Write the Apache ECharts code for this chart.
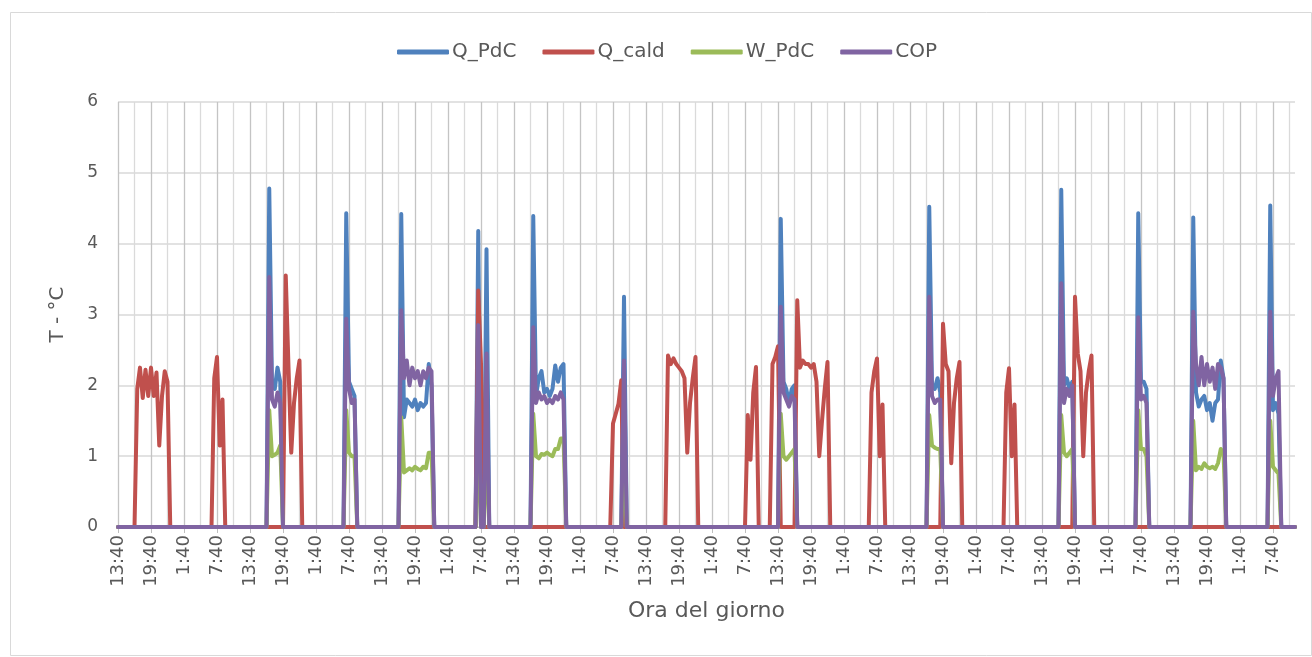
<!DOCTYPE html>
<html>
<head>
<meta charset="utf-8">
<script src="https://cdn.jsdelivr.net/npm/echarts@6/dist/echarts.min.js"></script>
<style>
  html, body { margin: 0; padding: 0; background: #ffffff; }
  #chart { width: 1312px; height: 657px; }
</style>
</head>
<body>
<div id="chart"></div>
<script>
// ---- Data (30-minute samples starting 13:40, one row = 6 hours) ----
const startTime = '13:40';
const stepMinutes = 30;
const pointCount = 429;
const tickLabels = ['13:40', '19:40', '1:40', '7:40'];
const seriesNames = ['Q_PdC', 'Q_cald', 'W_PdC', 'COP'];

const Q_PdC = [
  0,0,0,0,0,0,0,0,0,0,0,0,
  0,0,0,0,0,0,0,0,0,0,0,0,
  0,0,0,0,0,0,0,0,0,0,0,0,
  0,0,0,0,0,0,0,0,0,0,0,0,
  0,0,0,0,0,0,0,4.78,2.0,1.95,2.25,2.05,
  0,0,0,0,0,0,0,0,0,0,0,0,
  0,0,0,0,0,0,0,0,0,0,0,4.43,
  2.05,1.95,1.85,0,0,0,0,0,0,0,0,0,
  0,0,0,0,0,0,0,4.42,1.55,1.8,1.75,1.7,
  1.8,1.65,1.75,1.7,1.75,2.3,2.0,0,0,0,0,0,
  0,0,0,0,0,0,0,0,0,0,0,4.18,
  0,0,3.92,0,0,0,0,0,0,0,0,0,
  0,0,0,0,0,0,0,4.39,1.85,2.1,2.2,1.9,
  1.95,1.85,1.95,2.28,2.05,2.25,2.3,0,0,0,0,0,
  0,0,0,0,0,0,0,0,0,0,0,0,
  0,0,0,0,3.25,0,0,0,0,0,0,0,
  0,0,0,0,0,0,0,0,0,0,0,0,
  0,0,0,0,0,0,0,0,0,0,0,0,
  0,0,0,0,0,0,0,0,0,0,0,0,
  0,0,0,0,0,0,0,0,0,0,0,0,
  0,4.35,2.05,1.95,1.75,1.95,2.0,0,0,0,0,0,
  0,0,0,0,0,0,0,0,0,0,0,0,
  0,0,0,0,0,0,0,0,0,0,0,0,
  0,0,0,0,0,0,0,0,0,0,0,0,
  0,0,0,0,0,0,0,4.52,2.0,1.95,2.1,1.9,
  0,0,0,0,0,0,0,0,0,0,0,0,
  0,0,0,0,0,0,0,0,0,0,0,0,
  0,0,0,0,0,0,0,0,0,0,0,0,
  0,0,0,0,0,0,0,4.76,2.0,2.1,1.95,2.05,
  0,0,0,0,0,0,0,0,0,0,0,0,
  0,0,0,0,0,0,0,0,0,0,0,4.43,
  2.05,2.05,1.95,0,0,0,0,0,0,0,0,0,
  0,0,0,0,0,0,0,4.37,1.9,1.7,1.8,1.85,
  1.65,1.75,1.5,1.75,1.8,2.35,2.1,0,0,0,0,0,
  0,0,0,0,0,0,0,0,0,0,0,4.54,
  1.65,1.75,1.6,0,0,0,0,0,0
];

const Q_cald = [
  0,0,0,0,0,0,0,1.95,2.25,1.82,2.22,1.85,
  2.25,1.85,2.18,1.15,1.85,2.2,2.05,0,0,0,0,0,
  0,0,0,0,0,0,0,0,0,0,0,2.1,
  2.4,1.15,1.8,0,0,0,0,0,0,0,0,0,
  0,0,0,0,0,0,0,0,0,0,0,0,
  0,3.55,2.25,1.05,1.75,2.1,2.35,0,0,0,0,0,
  0,0,0,0,0,0,0,0,0,0,0,0,
  0,0,0,0,0,0,0,0,0,0,0,0,
  0,0,0,0,0,0,0,0,0,0,0,0,
  0,0,0,0,0,0,0,0,0,0,0,0,
  0,0,0,0,0,0,0,0,0,0,0,3.34,
  2.3,0,0,0,0,0,0,0,0,0,0,0,
  0,0,0,0,0,0,0,0,0,0,0,0,
  0,0,0,0,0,0,0,0,0,0,0,0,
  0,0,0,0,0,0,0,0,0,0,0,0,
  1.46,1.6,1.74,2.07,0,0,0,0,0,0,0,0,
  0,0,0,0,0,0,0,0,2.42,2.3,2.38,2.3,
  2.25,2.2,2.1,1.05,1.75,2.1,2.4,0,0,0,0,0,
  0,0,0,0,0,0,0,0,0,0,0,0,
  0,1.58,0.95,1.9,2.26,0,0,0,0,0,2.3,2.4,
  2.55,0,0,0,0,0,0,3.2,2.25,2.35,2.3,2.3,
  2.25,2.3,2.05,1.0,1.5,1.95,2.33,0,0,0,0,0,
  0,0,0,0,0,0,0,0,0,0,1.9,2.2,
  2.38,1.0,1.73,0,0,0,0,0,0,0,0,0,
  0,0,0,0,0,0,0,0,0,0,0,0,
  2.87,2.3,2.2,0.9,1.75,2.1,2.33,0,0,0,0,0,
  0,0,0,0,0,0,0,0,0,0,0,1.9,
  2.24,1.0,1.73,0,0,0,0,0,0,0,0,0,
  0,0,0,0,0,0,0,0,0,0,0,0,
  3.25,2.45,2.2,1.0,1.9,2.2,2.42,0,0,0,0,0,
  0,0,0,0,0,0,0,0,0,0,0,0,
  0,0,0,0,0,0,0,0,0,0,0,0,
  0,0,0,0,0,0,0,0,0,0,0,0,
  0,0,0,0,0,0,0,0,0,0,0,0,
  0,0,0,0,0,0,0,0,0,0,0,0,
  0,0,0,0,0,0,0,0,0
];

const W_PdC = [
  0,0,0,0,0,0,0,0,0,0,0,0,
  0,0,0,0,0,0,0,0,0,0,0,0,
  0,0,0,0,0,0,0,0,0,0,0,0,
  0,0,0,0,0,0,0,0,0,0,0,0,
  0,0,0,0,0,0,0,1.65,1.0,1.02,1.05,1.15,
  0,0,0,0,0,0,0,0,0,0,0,0,
  0,0,0,0,0,0,0,0,0,0,0,1.65,
  1.05,1.0,1.0,0,0,0,0,0,0,0,0,0,
  0,0,0,0,0,0,0,1.55,0.77,0.8,0.83,0.8,
  0.85,0.82,0.8,0.85,0.83,1.05,1.05,0,0,0,0,0,
  0,0,0,0,0,0,0,0,0,0,0,1.3,
  0,0,1.2,0,0,0,0,0,0,0,0,0,
  0,0,0,0,0,0,0,1.6,1.0,0.97,1.03,1.02,
  1.05,1.02,1.0,1.1,1.1,1.25,1.25,0,0,0,0,0,
  0,0,0,0,0,0,0,0,0,0,0,0,
  0,0,0,0,1.0,0,0,0,0,0,0,0,
  0,0,0,0,0,0,0,0,0,0,0,0,
  0,0,0,0,0,0,0,0,0,0,0,0,
  0,0,0,0,0,0,0,0,0,0,0,0,
  0,0,0,0,0,0,0,0,0,0,0,0,
  0,1.6,1.0,0.95,1.0,1.05,1.1,0,0,0,0,0,
  0,0,0,0,0,0,0,0,0,0,0,0,
  0,0,0,0,0,0,0,0,0,0,0,0,
  0,0,0,0,0,0,0,0,0,0,0,0,
  0,0,0,0,0,0,0,1.58,1.15,1.12,1.1,1.1,
  0,0,0,0,0,0,0,0,0,0,0,0,
  0,0,0,0,0,0,0,0,0,0,0,0,
  0,0,0,0,0,0,0,0,0,0,0,0,
  0,0,0,0,0,0,0,1.58,1.05,1.0,1.05,1.1,
  0,0,0,0,0,0,0,0,0,0,0,0,
  0,0,0,0,0,0,0,0,0,0,0,1.65,
  1.1,1.1,1.0,0,0,0,0,0,0,0,0,0,
  0,0,0,0,0,0,0,1.5,0.8,0.85,0.82,0.9,
  0.85,0.83,0.85,0.82,0.9,1.1,1.05,0,0,0,0,0,
  0,0,0,0,0,0,0,0,0,0,0,1.5,
  0.85,0.8,0.75,0,0,0,0,0,0
];

const COP = [
  0,0,0,0,0,0,0,0,0,0,0,0,
  0,0,0,0,0,0,0,0,0,0,0,0,
  0,0,0,0,0,0,0,0,0,0,0,0,
  0,0,0,0,0,0,0,0,0,0,0,0,
  0,0,0,0,0,0,0,3.53,1.8,1.7,1.9,1.75,
  0,0,0,0,0,0,0,0,0,0,0,0,
  0,0,0,0,0,0,0,0,0,0,0,2.94,
  1.95,1.75,1.8,0,0,0,0,0,0,0,0,0,
  0,0,0,0,0,0,0,3.06,2.1,2.35,2.0,2.25,
  2.1,2.2,2.0,2.2,2.1,2.25,2.2,0,0,0,0,0,
  0,0,0,0,0,0,0,0,0,0,0,2.85,
  0,0,2.45,0,0,0,0,0,0,0,0,0,
  0,0,0,0,0,0,0,2.82,1.75,1.9,1.8,1.85,
  1.75,1.8,1.75,1.85,1.8,1.9,1.8,0,0,0,0,0,
  0,0,0,0,0,0,0,0,0,0,0,0,
  0,0,0,0,2.35,0,0,0,0,0,0,0,
  0,0,0,0,0,0,0,0,0,0,0,0,
  0,0,0,0,0,0,0,0,0,0,0,0,
  0,0,0,0,0,0,0,0,0,0,0,0,
  0,0,0,0,0,0,0,0,0,0,0,0,
  0,3.11,1.9,1.8,1.7,1.85,1.8,0,0,0,0,0,
  0,0,0,0,0,0,0,0,0,0,0,0,
  0,0,0,0,0,0,0,0,0,0,0,0,
  0,0,0,0,0,0,0,0,0,0,0,0,
  0,0,0,0,0,0,0,3.25,1.85,1.75,1.8,1.8,
  0,0,0,0,0,0,0,0,0,0,0,0,
  0,0,0,0,0,0,0,0,0,0,0,0,
  0,0,0,0,0,0,0,0,0,0,0,0,
  0,0,0,0,0,0,0,3.44,1.75,1.95,1.85,2.0,
  0,0,0,0,0,0,0,0,0,0,0,0,
  0,0,0,0,0,0,0,0,0,0,0,2.96,
  1.8,1.85,1.75,0,0,0,0,0,0,0,0,0,
  0,0,0,0,0,0,0,3.04,2.3,2.0,2.4,2.0,
  2.3,2.05,2.25,1.95,2.3,2.25,2.1,0,0,0,0,0,
  0,0,0,0,0,0,0,0,0,0,0,3.04,
  1.85,2.1,2.2,0,0,0,0,0,0
];

const yTicks = [0, 1, 2, 3, 4, 5, 6];

// ---- Category axis (time of day) ----
const categories = [];
(function () {
  const parts = startTime.split(':');
  let t = parseInt(parts[0], 10) * 60 + parseInt(parts[1], 10);
  for (let i = 0; i < pointCount; i++) {
    const m = ((t + i * stepMinutes) % 1440 + 1440) % 1440;
    const h = Math.floor(m / 60);
    const mm = m % 60;
    categories.push(h + ':' + (mm < 10 ? '0' + mm : mm));
  }
})();

const colors = ['#4F81BD', '#C0504D', '#9BBB59', '#8064A2'];
const values = [Q_PdC, Q_cald, W_PdC, COP];
const FONT = 'DejaVu Sans';

const chart = echarts.init(document.getElementById('chart'), null, { renderer: 'canvas' });

chart.setOption({
  animation: false,
  backgroundColor: '#ffffff',
  color: colors,
  graphic: [{
    type: 'rect',
    shape: { x: 10.5, y: 12.5, width: 1301, height: 643 },
    style: { fill: 'none', stroke: '#D9D9D9', lineWidth: 1 },
    silent: true,
    z: -10
  }],
  legend: {
    data: seriesNames,
    left: 392,
    top: 37,
    icon: 'roundRect',
    itemWidth: 52,
    itemHeight: 5,
    itemGap: 26,
    textStyle: { fontFamily: FONT, fontSize: 20, color: '#595959', padding: [0, 0, 0, -2] }
  },
  grid: { left: 118, right: 17, top: 102, bottom: 130, containLabel: false },
  xAxis: {
    type: 'category',
    data: categories,
    boundaryGap: false,
    name: 'Ora del giorno',
    nameLocation: 'middle',
    nameGap: 73,
    nameTextStyle: { fontFamily: FONT, fontSize: 22, color: '#595959' },
    axisLine: { show: true, lineStyle: { color: '#BFBFBF', width: 1 } },
    axisTick: { show: true, interval: 11, length: 6, lineStyle: { color: '#BFBFBF' } },
    axisLabel: {
      interval: 11,
      rotate: 90,
      margin: 8,
      fontFamily: FONT,
      fontSize: 18,
      color: '#595959'
    },
    splitLine: {
      show: true,
      interval: 5,
      lineStyle: { color: ['#C4C4C4', '#DADADA'], width: 1.3 }
    }
  },
  yAxis: {
    type: 'value',
    min: 0,
    max: 6,
    interval: 1,
    name: 'T - °C',
    nameLocation: 'middle',
    nameGap: 50,
    nameRotate: 90,
    nameTextStyle: { fontFamily: FONT, fontSize: 20, color: '#595959' },
    axisLine: { show: false },
    axisTick: { show: false },
    axisLabel: {
      margin: 20,
      fontFamily: FONT,
      fontSize: 17,
      color: '#595959',
      formatter: function (v) { return yTicks.indexOf(v) >= 0 ? String(v) : ''; }
    },
    splitLine: { show: true, lineStyle: { color: '#D9D9D9', width: 1.5 } }
  },
  series: seriesNames.map(function (name, k) {
    return {
      name: name,
      type: 'line',
      data: values[k],
      symbol: 'none',
      showSymbol: false,
      smooth: false,
      sampling: null,
      lineStyle: { color: colors[k], width: 4, cap: 'round', join: 'round' },
      itemStyle: { color: colors[k] },
      emphasis: { disabled: true }
    };
  })
});
</script>
</body>
</html>
